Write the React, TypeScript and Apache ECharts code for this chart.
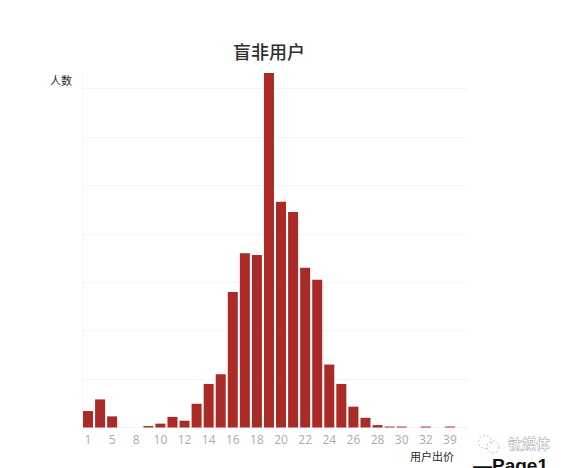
import React, { useEffect, useRef } from "react";
import * as echarts from "echarts";

const categories = ["1","3","5","7","8","9","10","11","12","13","14","15","16","17","18","19","20","21","22","23","24","25","26","27","28","29","30","31","32","35","39",""];
const values = [34,58,23,0,0,3,8,22,14,49,90,110,280,360,356,732,466,445,330,305,130,90,43,20,5,2,2,0,2,0,2,0];
const titleText = "盲非用户";
const yName = "人数";
const xName = "用户出价";
const pageLabel = "—Page1";
const watermark = "钛媒体";
const CJK = '"Noto Sans CJK SC", sans-serif';

export default function App() {
  const ref = useRef<HTMLDivElement>(null);
  useEffect(() => {
    const chart = echarts.init(ref.current!, undefined, { renderer: "svg" });
    chart.setOption({
      animation: false,
      backgroundColor: "#ffffff",
      title: {
        text: titleText, left: 264, top: 37, textAlign: "center",
        textStyle: { fontFamily: CJK, fontSize: 18, fontWeight: 500, color: "#2e2e2e" },
      },
      grid: { left: 82, right: 99, top: 73, bottom: 40.5 },
      xAxis: {
        type: "category", data: categories,
        name: xName, nameLocation: "end", nameGap: -14,
        nameTextStyle: { fontFamily: CJK, fontSize: 11, color: "#2a2a2a", align: "right", verticalAlign: "top", padding: [23, 0, 0, 0] },
        axisTick: { show: false },
        axisLine: { lineStyle: { color: "#f2f2f2" } },
        axisLabel: { interval: 1, color: "#ababab", fontFamily: "Open Sans, sans-serif", fontSize: 12, margin: 6 },
      },
      yAxis: {
        type: "value", min: 0, max: 732, interval: 100,
        name: yName, nameLocation: "end", nameGap: -12,
        nameTextStyle: { fontFamily: CJK, fontSize: 11, color: "#2a2a2a", align: "right", padding: [0, 10, 0, 0] },
        axisLabel: { show: false }, axisTick: { show: false },
        axisLine: { show: true, lineStyle: { color: "#f7f7f7" } },
        splitLine: { show: true, showMaxLine: false, lineStyle: { color: "#f5f5f5" } },
      },
      series: [{
        type: "bar", data: values, barWidth: 10,
        itemStyle: { color: "#a92a26" },
      }],
      graphic: [
        { type: "circle", shape: { cx: 485, cy: 442, r: 6.5 }, style: { fill: "none", stroke: "#bdbdbd", lineWidth: 1, lineDash: [2, 2] } },
        { type: "circle", shape: { cx: 493, cy: 447, r: 6 }, style: { fill: "none", stroke: "#bdbdbd", lineWidth: 1, lineDash: [2, 2] } },
        { type: "text", x: 508, y: 443, style: { text: watermark, font: `14px ${CJK}`, fill: "#ffffff", stroke: "#9a9a9a", lineWidth: 0.8, textVerticalAlign: "middle" } },
        { type: "text", x: 473, y: 465, style: { text: pageLabel, font: 'bold 19px "Liberation Sans", sans-serif', fill: "#111111", textVerticalAlign: "middle" } },
      ],
    });
    return () => chart.dispose();
  }, []);
  return <div ref={ref} style={{ position: "fixed", left: 0, top: 0, width: 567, height: 468 }} />;
}
